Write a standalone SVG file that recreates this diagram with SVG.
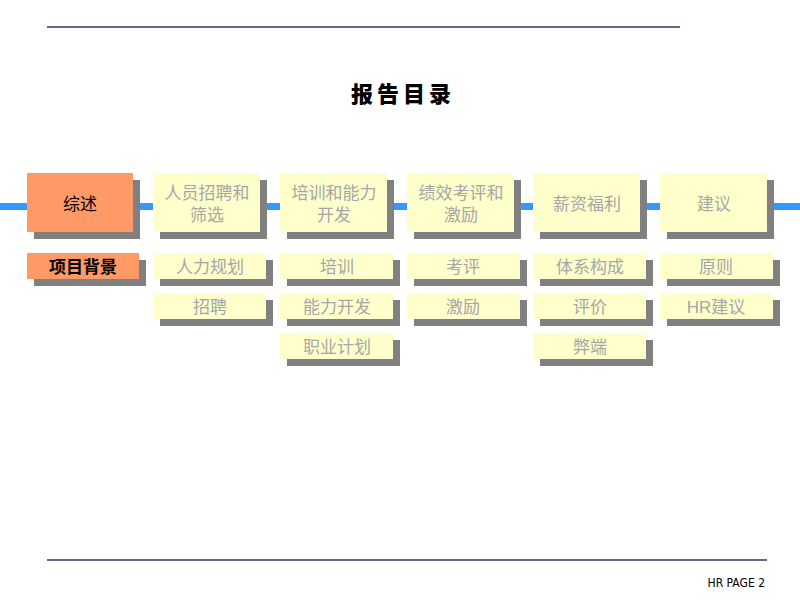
<svg xmlns="http://www.w3.org/2000/svg" width="800" height="600" viewBox="0 0 800 600">
<style>
.sh{fill:#808080}
.bx{fill:#FFFFCC}
.hl{fill:#FF9966}
.t{font-family:"Liberation Sans","Noto Sans CJK SC",sans-serif;font-size:17px;fill:#A6A6A6;text-anchor:middle}
.tk{fill:#000}
.ln{stroke:#333366;stroke-width:1.3}
</style>
<rect width="800" height="600" fill="#fff"/>
<line class="ln" x1="47" y1="27" x2="680" y2="27"/>
<line class="ln" x1="47" y1="560" x2="767" y2="560"/>
<text x="403" y="102" text-anchor="middle" style="font-family:'Noto Sans CJK SC',sans-serif;font-size:22px;font-weight:900;letter-spacing:4px" fill="#000">报告目录</text>
<g id="connectors">
<rect x="0" y="203" width="800" height="7" fill="#3399FF"/>
</g>
<g id="n1"><rect class="sh" x="34" y="180" width="106" height="59"/><rect class="hl" x="27" y="173" width="106" height="59"/><text class="t tk" x="80" y="210">综述</text></g>
<g id="n2"><rect class="sh" x="160" y="180" width="107" height="59"/><rect class="bx" x="153" y="173" width="107" height="59"/><text class="t" x="207" y="199">人员招聘和</text><text class="t" x="207" y="221">筛选</text></g>
<g id="n3"><rect class="sh" x="287" y="180" width="107" height="59"/><rect class="bx" x="280" y="173" width="107" height="59"/><text class="t" x="334" y="199">培训和能力</text><text class="t" x="334" y="221">开发</text></g>
<g id="n4"><rect class="sh" x="414" y="180" width="107" height="59"/><rect class="bx" x="407" y="173" width="107" height="59"/><text class="t" x="461" y="199">绩效考评和</text><text class="t" x="461" y="221">激励</text></g>
<g id="n5"><rect class="sh" x="540" y="180" width="107" height="59"/><rect class="bx" x="533" y="173" width="107" height="59"/><text class="t" x="587" y="210">薪资福利</text></g>
<g id="n6"><rect class="sh" x="667" y="180" width="107" height="59"/><rect class="bx" x="660" y="173" width="107" height="59"/><text class="t" x="714" y="210">建议</text></g>
<g id="s1"><rect class="sh" x="34" y="260" width="112" height="26"/><rect class="hl" x="27" y="253" width="112" height="26"/><text class="t tk" x="83" y="273" style="font-weight:bold">项目背景</text></g>
<g id="s2"><rect class="sh" x="160" y="260" width="113" height="26"/><rect class="bx" x="153" y="253" width="113" height="26"/><text class="t" x="210" y="273">人力规划</text></g>
<g id="s3"><rect class="sh" x="160" y="300" width="113" height="26"/><rect class="bx" x="153" y="293" width="113" height="26"/><text class="t" x="210" y="313">招聘</text></g>
<g id="s4"><rect class="sh" x="287" y="260" width="113" height="26"/><rect class="bx" x="280" y="253" width="113" height="26"/><text class="t" x="337" y="273">培训</text></g>
<g id="s5"><rect class="sh" x="287" y="300" width="113" height="26"/><rect class="bx" x="280" y="293" width="113" height="26"/><text class="t" x="337" y="313">能力开发</text></g>
<g id="s6"><rect class="sh" x="287" y="340" width="113" height="26"/><rect class="bx" x="280" y="333" width="113" height="26"/><text class="t" x="337" y="353">职业计划</text></g>
<g id="s7"><rect class="sh" x="414" y="260" width="113" height="26"/><rect class="bx" x="407" y="253" width="113" height="26"/><text class="t" x="463" y="273">考评</text></g>
<g id="s8"><rect class="sh" x="414" y="300" width="113" height="26"/><rect class="bx" x="407" y="293" width="113" height="26"/><text class="t" x="463" y="313">激励</text></g>
<g id="s9"><rect class="sh" x="540" y="260" width="113" height="26"/><rect class="bx" x="533" y="253" width="113" height="26"/><text class="t" x="590" y="273">体系构成</text></g>
<g id="s10"><rect class="sh" x="540" y="300" width="113" height="26"/><rect class="bx" x="533" y="293" width="113" height="26"/><text class="t" x="590" y="313">评价</text></g>
<g id="s11"><rect class="sh" x="540" y="340" width="113" height="26"/><rect class="bx" x="533" y="333" width="113" height="26"/><text class="t" x="590" y="353">弊端</text></g>
<g id="s12"><rect class="sh" x="667" y="260" width="113" height="26"/><rect class="bx" x="660" y="253" width="113" height="26"/><text class="t" x="716" y="273">原则</text></g>
<g id="s13"><rect class="sh" x="667" y="300" width="113" height="26"/><rect class="bx" x="660" y="293" width="113" height="26"/><text class="t" x="716" y="313">HR建议</text></g>
<text x="765" y="587" text-anchor="end" style="font-family:'DejaVu Sans Condensed','Liberation Sans',sans-serif;font-size:12px" fill="#000">HR PAGE 2</text>
</svg>
